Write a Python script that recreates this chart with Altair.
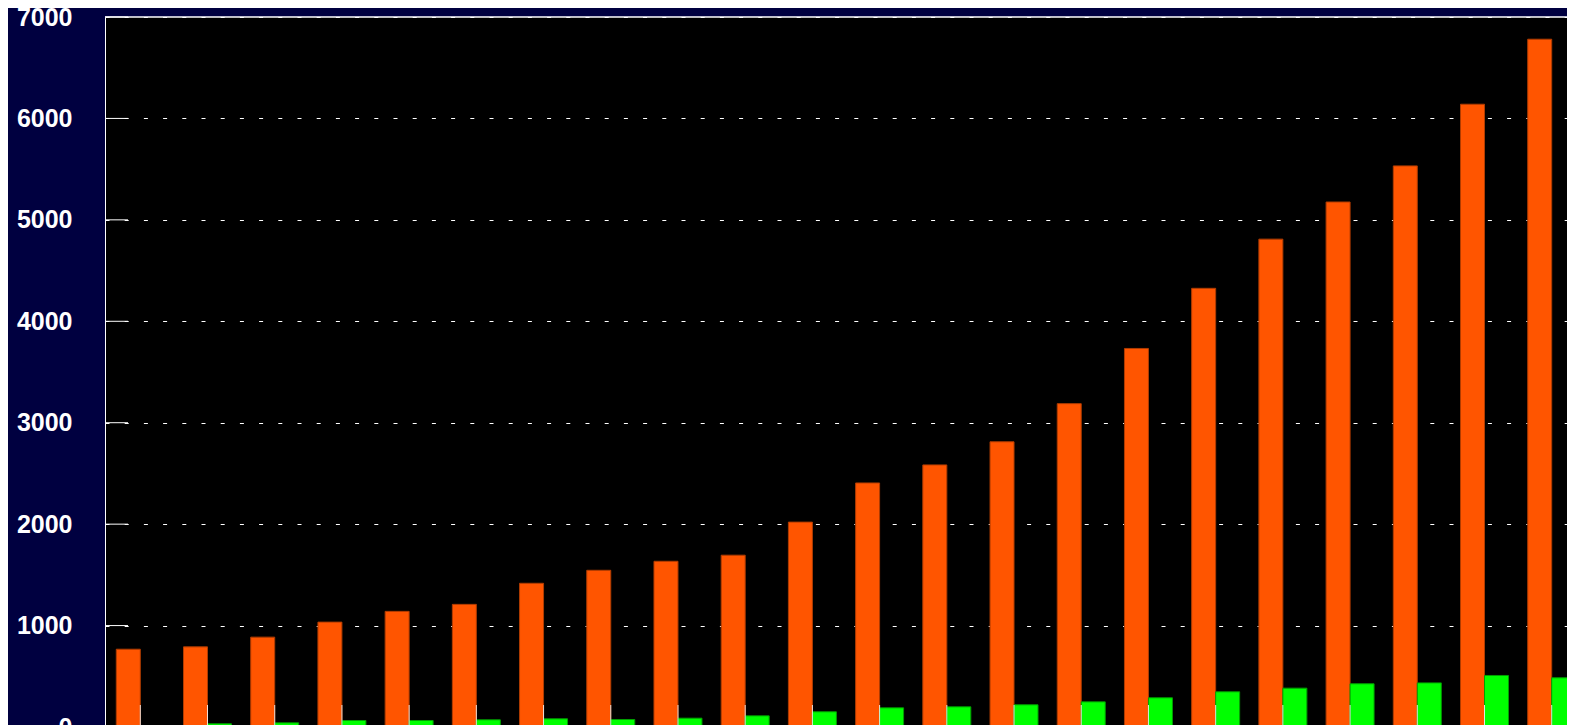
import altair as alt
import pandas as pd

# Category keys (x axis labels lie below the visible window in the reference)
years = ["1990", "1991", "1992", "1993", "1994", "1995", "1996", "1997",
         "1998", "1999", "2000", "2001", "2002", "2003", "2004", "2005",
         "2006", "2007", "2008", "2009", "2010", "2011"]

series_names = ["Series 1", "Series 2"]

# Orange series values
orange_vals = [767, 790, 886, 1034, 1140, 1209, 1417, 1545, 1634, 1694, 2020,
               2406, 2584, 2812, 3188, 3732, 4325, 4810, 5176, 5532, 6140, 6781]

# Green series values
green_vals = [3, 32, 41, 64, 64, 71, 81, 74, 87, 110, 150,
              189, 199, 219, 248, 288, 347, 383, 426, 435, 508, 485]

# Y axis tick values
y_ticks = [0, 1000, 2000, 3000, 4000, 5000, 6000, 7000]
y_top = [7000]

bar_colors = ["#FF5500", "#00FF00"]
bar_strokes = ["#B03C00", "#00A000"]

df = pd.DataFrame({
    "year": years + years,
    "series": [series_names[0]] * len(years) + [series_names[1]] * len(years),
    "value": orange_vals + green_vals,
})
df_yt = pd.DataFrame({"value": y_ticks})
df_top = pd.DataFrame({"value": y_top})
df_xt = pd.DataFrame({"year": years})

# visible plot area (svg must fit the 1559px wide page body);
# the category band continues past the right edge like in the reference
W, H = 1462, 710
X_RANGE = 1482
FONT = "Liberation Sans"

x_enc = alt.X(
    "year:N", sort=years,
    scale=alt.Scale(paddingInner=0.286, paddingOuter=0.168, range=[0, X_RANGE]),
    axis=alt.Axis(title=None, ticks=False, domain=False, grid=False, labels=False),
)
y_scale = alt.Scale(domain=[0, 7000], nice=False)
y_axis = alt.Axis(values=y_ticks, format="d", title=None, grid=True, gridColor="white",
                  gridDash=[4, 15.2], gridWidth=1, ticks=False, tickSize=0,
                  domain=True, domainColor="white", domainWidth=1,
                  labelColor="white", labelFont=FONT,
                  labelFontSize=25, labelFontWeight="bold", labelPadding=33)

bars = alt.Chart(df).mark_bar(strokeWidth=1).encode(
    x=x_enc,
    xOffset=alt.XOffset("series:N", sort=series_names,
                        scale=alt.Scale(paddingInner=0, paddingOuter=0)),
    y=alt.Y("value:Q", scale=y_scale, axis=y_axis),
    color=alt.Color("series:N", scale=alt.Scale(domain=series_names, range=bar_colors), legend=None),
    stroke=alt.Stroke("series:N", scale=alt.Scale(domain=series_names, range=bar_strokes), legend=None),
)

y_tick_rules = alt.Chart(df_yt).mark_rule(color="white", strokeWidth=1).encode(
    y=alt.Y("value:Q", scale=y_scale, axis=y_axis),
    x=alt.value(0),
    x2=alt.value(23),
)

top_border = alt.Chart(df_top).mark_rule(color="white", strokeWidth=1.5).encode(
    y=alt.Y("value:Q", scale=y_scale, axis=y_axis),
    x=alt.value(0),
    x2=alt.value(W + 20),
)

x_tick_rules = alt.Chart(df_xt).mark_rule(color="white", strokeWidth=1, opacity=0.85).encode(
    x=x_enc,
    y=alt.value(H - 22),
    y2=alt.value(H),
)

chart = alt.layer(bars, y_tick_rules, top_border, x_tick_rules).properties(
    width=W, height=H,
    background="#000040",
    autosize=alt.AutoSizeParams(type="none"),
    padding={"left": 97, "top": 9, "right": 0, "bottom": 40},
).configure_view(
    fill="black", stroke=None,
)

chart.save("out.html", embed_options={"renderer": "svg", "actions": False})
